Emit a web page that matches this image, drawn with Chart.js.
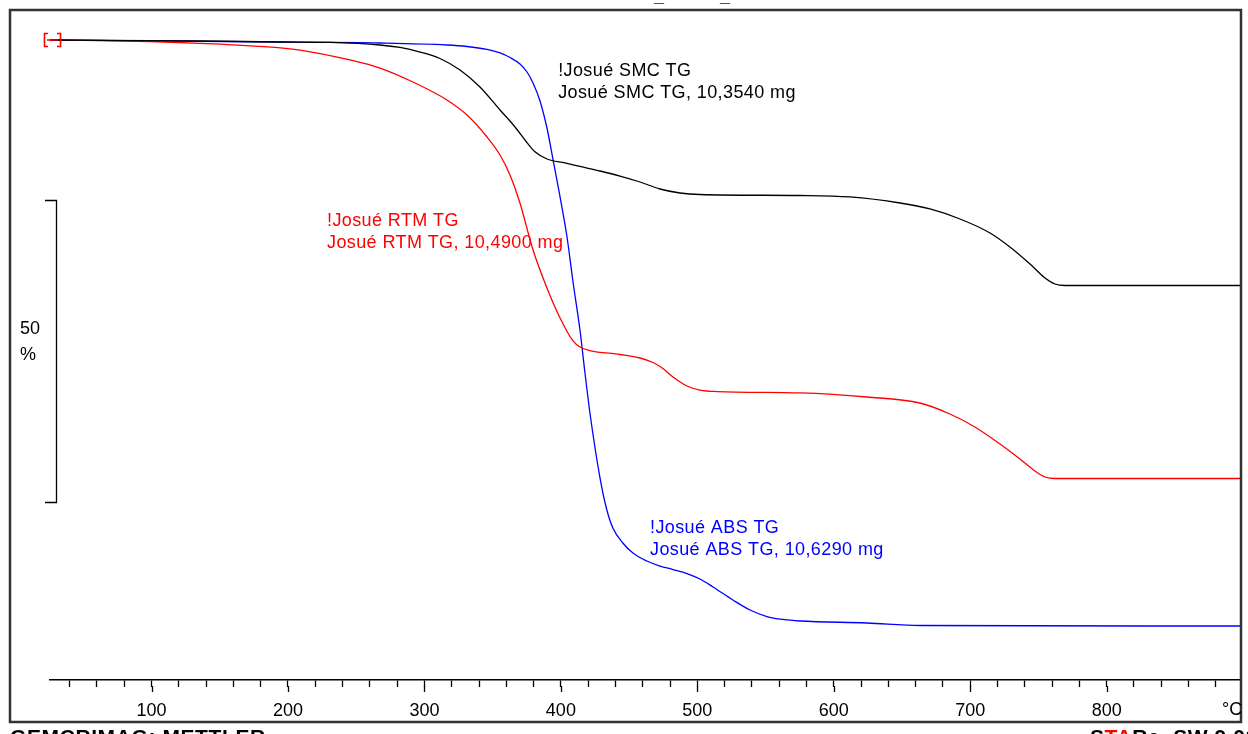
<!DOCTYPE html>
<html><head><meta charset="utf-8">
<script src="https://cdn.jsdelivr.net/npm/chart.js@4/dist/chart.umd.min.js"></script>
<style>html,body{margin:0;padding:0;background:#fff;overflow:hidden}#wrap{width:1248px;height:734px;position:relative}</style>
</head><body><div id="wrap"><canvas id="c" width="1248" height="734"></canvas></div>
<script>
// ---- data (temperature °C, mass %) ----
const smcTemp = [25.6, 136, 194.2, 230.8, 267.4, 282.1, 296.8, 311.4, 326.1, 340.7, 355.4, 366.4, 375.2, 381.0, 389.8, 403.0, 414.0, 428.7, 443.3, 458.0, 472.6, 487.3, 501.9, 575.2, 611.8, 648.5, 670.5, 692.5, 714.5, 729.1, 743.8, 754.8, 762.1, 769.4, 897.7];
const smcMass = [100, 99.83, 99.67, 99.59, 99.17, 98.76, 98.01, 96.94, 95.03, 92.22, 88.41, 85.6, 83.0, 81.5, 80.3, 79.64, 79.06, 78.31, 77.48, 76.49, 75.33, 74.67, 74.42, 74.25, 74.01, 73.01, 72.02, 70.36, 68.05, 65.73, 62.91, 60.6, 59.6, 59.35, 59.35];
const rtmTemp = [25.6, 62.3, 98.9, 135.5, 172.2, 208.8, 245.5, 267.4, 291.6, 316.5, 331.2, 345.9, 355.4, 362.7, 370.0, 379.6, 389.8, 399.4, 408.9, 414.0, 421.3, 443.3, 458.0, 467.5, 474.8, 482.2, 492.4, 501.9, 514.4, 575.2, 624.3, 663.1, 685.1, 703.4, 721.8, 736.4, 747.4, 754.8, 762.1, 897.7];
const rtmMass = [100, 99.92, 99.75, 99.45, 99.04, 98.34, 96.69, 95.36, 93.05, 90.07, 87.58, 83.94, 80.96, 77.65, 73.01, 65.23, 58.94, 53.97, 50.17, 49.17, 48.59, 47.93, 47.35, 46.6, 45.6, 44.21, 42.72, 42.05, 41.8, 41.56, 40.89, 39.9, 38.08, 35.93, 33.11, 30.63, 28.64, 27.65, 27.4, 27.4];
const absTemp = [25.6, 194.2, 267.4, 316.5, 331.2, 345.9, 355.4, 362.7, 370.0, 375.2, 379.6, 384.7, 389.8, 394.3, 399.4, 404.5, 408.9, 414.0, 417.4, 421.3, 428.7, 433.7, 438.1, 445.4, 452.8, 463.0, 472.6, 482.2, 492.4, 501.9, 511.5, 526.1, 538.6, 551.0, 562.8, 575.2, 624.3, 663.1, 897.7];
const absMass = [100, 99.67, 99.5, 99.17, 98.92, 98.43, 97.85, 97.1, 96.03, 94.7, 92.88, 89.9, 85.43, 80.13, 74.01, 67.38, 59.93, 51.99, 45.36, 38.25, 27.48, 22.19, 19.21, 16.72, 15.07, 13.74, 12.91, 12.33, 11.67, 10.76, 9.44, 7.28, 5.63, 4.55, 4.06, 3.81, 3.48, 3.06, 2.98];

const seriesTitles = ['!Josué SMC TG', '!Josué RTM TG', '!Josué ABS TG'];
const seriesSubtitles = ['Josué SMC TG, 10,3540 mg', 'Josué RTM TG, 10,4900 mg', 'Josué ABS TG, 10,6290 mg'];
const xMinorTicks = [40,60,80,100,120,140,160,180,200,220,240,260,280,300,320,340,360,380,400,420,440,460,480,500,520,540,560,580,600,620,640,660,680,700,720,740,760,780,800,820,840,860,880];
const xMajorTicks = [100,200,300,400,500,600,700,800];
const xUnit = '°C';
const scaleBarLabel = ['50', '%'];
const scaleBarRange = [73.5, 23.5];
const headerParts = ['Josué SMC', '_', 'ABS', '_', 'RTM'];
const headerRight = '14.07.2011 15:22:41';
const footerLeft = 'GEMCRIMAG: METTLER';
const footerRight = ['S', 'TA', 'R', 'e  SW 9.01'];

// ---- layout / style (not data) ----
const X_MIN = 25.6, X_MAX = 897.7, Y_MIN = -5.96, Y_MAX = 103.31;
const labelAnchors = [[398, 94.04], [228.6, 69.2], [465.3, 18.4]];
const colors = ['#000000', '#ff0000', '#0000ff'];
const FONT = '"Liberation Sans", Arial, sans-serif';

function pts(t, m) { return t.map((v, i) => ({x: v, y: m[i]})); }

const decor = {
  id: 'decor',
  afterDraw(chart) {
    const ctx = chart.ctx, xs = chart.scales.x, ys = chart.scales.y;
    ctx.save();
    // frame
    ctx.strokeStyle = '#333'; ctx.lineWidth = 2.5;
    ctx.strokeRect(10, 10, 1231, 712);
    // header fragments (cut by top edge)
    ctx.fillStyle = '#000'; ctx.font = 'bold 18px ' + FONT; ctx.textBaseline = 'alphabetic';
    ctx.textAlign = 'right'; ctx.fillText(headerParts[0], 654, 0);
    ctx.textAlign = 'left';
    ctx.fillText(headerParts[1], 654, 1.5);
    ctx.fillText(headerParts[2], 668, 0);
    ctx.fillText(headerParts[3], 720, 1.5);
    ctx.fillText(headerParts[4], 732, 0);
    ctx.fillText(headerRight, 1060, 0);
    // footer (cut by bottom edge)
    ctx.font = 'bold 21px ' + FONT;
    if ('letterSpacing' in ctx) ctx.letterSpacing = '0.6px';
    ctx.fillText(footerLeft, 10, 744);
    let fx = 1090;
    footerRight.forEach((s, i) => { ctx.fillStyle = i === 1 ? '#ff0000' : '#000'; ctx.fillText(s, fx, 744); fx += ctx.measureText(s).width; });
    if ('letterSpacing' in ctx) ctx.letterSpacing = '0px';
    // major tick extensions
    ctx.strokeStyle = '#000'; ctx.lineWidth = 1.3;
    xMajorTicks.forEach(v => { const px = Math.round(xs.getPixelForValue(v)) + 0.5; ctx.beginPath(); ctx.moveTo(px, 686); ctx.lineTo(px, 692); ctx.stroke(); });
    // unit label
    ctx.fillStyle = '#000'; ctx.font = '18px ' + FONT; ctx.textAlign = 'left';
    ctx.fillText(xUnit, 1222, 715);
    // scale bar
    const yTop = Math.round(ys.getPixelForValue(scaleBarRange[0])) + 0.5;
    const yBot = Math.round(ys.getPixelForValue(scaleBarRange[1])) + 0.5;
    ctx.lineWidth = 1.3; ctx.strokeStyle = '#000';
    ctx.beginPath(); ctx.moveTo(45, yTop); ctx.lineTo(56.5, yTop); ctx.lineTo(56.5, yBot); ctx.lineTo(45, yBot); ctx.stroke();
    ctx.fillText(scaleBarLabel[0], 20, 334);
    ctx.fillText(scaleBarLabel[1], 20, 360);
    // start marker [-]
    const y0 = ys.getPixelForValue(100);
    ctx.strokeStyle = '#ff0000'; ctx.lineWidth = 1.6;
    ctx.beginPath();
    ctx.moveTo(48, y0 - 6.5); ctx.lineTo(44.5, y0 - 6.5); ctx.lineTo(44.5, y0 + 6.5); ctx.lineTo(48, y0 + 6.5);
    ctx.moveTo(57, y0 - 6.5); ctx.lineTo(60.5, y0 - 6.5); ctx.lineTo(60.5, y0 + 6.5); ctx.lineTo(57, y0 + 6.5);
    ctx.moveTo(47, y0); ctx.lineTo(58, y0);
    ctx.stroke();
    // series annotations
    ctx.font = '18px ' + FONT; ctx.textAlign = 'left';
    if ('letterSpacing' in ctx) ctx.letterSpacing = '0.4px';
    labelAnchors.forEach((a, i) => {
      const px = xs.getPixelForValue(a[0]), py = ys.getPixelForValue(a[1]);
      ctx.fillStyle = colors[i];
      ctx.fillText(seriesTitles[i], px, py);
      ctx.fillText(seriesSubtitles[i], px, py + 22);
    });
    ctx.restore();
  }
};

new Chart(document.getElementById('c'), {
  type: 'line',
  data: {
    datasets: [
      {label: 'SMC', data: pts(smcTemp, smcMass), borderColor: colors[0]},
      {label: 'RTM', data: pts(rtmTemp, rtmMass), borderColor: colors[1]},
      {label: 'ABS', data: pts(absTemp, absMass), borderColor: colors[2]}
    ].map(d => Object.assign(d, {borderWidth: 1.3, pointRadius: 0, fill: false, cubicInterpolationMode: 'monotone'}))
  },
  options: {
    responsive: false, animation: false, devicePixelRatio: 1,
    layout: {padding: {left: 50, right: 8, top: 20, bottom: 12}},
    plugins: {legend: {display: false}, tooltip: {enabled: false}},
    scales: {
      x: {
        type: 'linear', min: X_MIN, max: X_MAX,
        afterBuildTicks(s) { s.ticks = xMinorTicks.map(v => ({value: v})); },
        afterFit(s) { s.height = 42; },
        grid: {display: true, drawOnChartArea: false, drawTicks: true, tickLength: 7, color: '#000', tickWidth: 1.3},
        border: {display: true, color: '#000', width: 1.5},
        ticks: {autoSkip: false, maxRotation: 0, padding: 13, color: '#000', font: {family: FONT, size: 18},
          callback: v => xMajorTicks.includes(v) ? String(v) : ''}
      },
      y: {type: 'linear', display: false, min: Y_MIN, max: Y_MAX}
    }
  },
  plugins: [decor]
});
</script></body></html>
